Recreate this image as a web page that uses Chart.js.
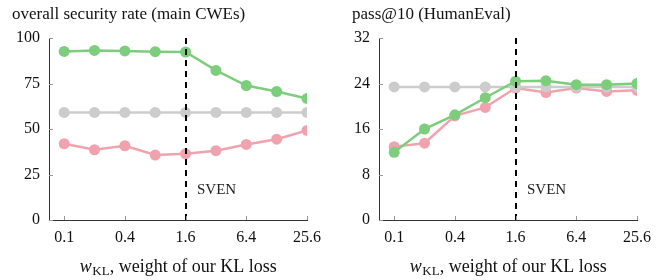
<!DOCTYPE html>
<html>
<head>
<meta charset="utf-8">
<script src="https://cdn.jsdelivr.net/npm/chart.js@4.4.1/dist/chart.umd.min.js"></script>
<style>
    body { margin: 0; background: #fff; }
    .panel { position: absolute; top: 0; width: 332px; height: 280px; }
</style>
</head>
<body>
<div class="panel" style="left:0"><canvas id="secChart"></canvas></div>
<div class="panel" style="left:332px"><canvas id="passChart"></canvas></div>
<script>
const klWeights = [0.1, 0.2, 0.4, 0.8, 1.6, 3.2, 6.4, 12.8, 25.6];
const xTickWeights = [0.1, 0.4, 1.6, 6.4, 25.6];
const svenWeight = 1.6;

// overall security rate (main CWEs)
const secSven = [92.6, 93.2, 92.9, 92.5, 92.3, 82.2, 73.9, 70.6, 66.8];
const secBase = [59.1, 59.1, 59.1, 59.1, 59.1, 59.1, 59.1, 59.1, 59.1];
const secVul = [41.9, 38.6, 40.8, 35.7, 36.4, 38.1, 41.5, 44.4, 49.2];
const secTicks = [0, 25, 50, 75, 100];

// pass@10 (HumanEval)
const passSven = [11.9, 16.0, 18.5, 21.5, 24.4, 24.5, 23.8, 23.8, 24.0];
const passBase = [23.4, 23.4, 23.4, 23.4, 23.4, 23.4, 23.4, 23.4, 23.4];
const passVul = [12.9, 13.5, 18.3, 19.8, 23.2, 22.4, 23.2, 22.6, 22.8];
const passTicks = [0, 8, 16, 24, 32];

const GREEN = '#7ccd7c';
const PINK = '#f0a3ae';
const GRAY = '#cccccc';
const SERIF = '"Liberation Serif", "DejaVu Serif", serif';

// log2 position on the x axis, 0.1 -> 0
const xPos = w => Math.log2(w / 0.1);

const series = (label, values, color) => ({
    label: label,
    data: values.map((v, i) => ({ x: xPos(klWeights[i]), y: v })),
    borderColor: color,
    backgroundColor: color,
    pointBackgroundColor: color,
    pointBorderWidth: 0,
    pointRadius: 5.5,
    borderWidth: 2.5,
    tension: 0
});

const decor = {
    id: 'decor',
    afterDatasetsDraw(chart) {
        const { ctx, chartArea: a, scales: { x } } = chart;
        const sx = Math.round(x.getPixelForValue(xPos(svenWeight)));
        ctx.save();
        ctx.strokeStyle = '#000';
        ctx.lineWidth = 2;
        ctx.setLineDash([6, 5]);
        ctx.beginPath();
        ctx.moveTo(sx, a.top);
        ctx.lineTo(sx, a.bottom);
        ctx.stroke();
        ctx.setLineDash([]);
        ctx.fillStyle = '#222';
        ctx.font = '15px ' + SERIF;
        ctx.textBaseline = 'alphabetic';
        ctx.fillText('SVEN', sx + 11, 194);
        ctx.restore();
    },
    afterDraw(chart, args, opts) {
        const { ctx, chartArea: a, scales: { x, y } } = chart;
        ctx.save();
        // inward tick marks
        ctx.strokeStyle = '#999';
        ctx.lineWidth = 1;
        ctx.beginPath();
        x.ticks.forEach(t => {
            const px = Math.round(x.getPixelForValue(t.value)) + 0.5;
            ctx.moveTo(px, a.bottom);
            ctx.lineTo(px, a.bottom - 4);
        });
        y.ticks.forEach(t => {
            const py = Math.round(y.getPixelForValue(t.value)) + 0.5;
            ctx.moveTo(a.left, py);
            ctx.lineTo(a.left + 4, py);
        });
        ctx.stroke();

        // panel title
        ctx.fillStyle = '#111';
        ctx.textBaseline = 'alphabetic';
        ctx.textAlign = 'left';
        ctx.font = '17px ' + SERIF;
        ctx.fillText(opts.title, opts.titleX, 19);

        // x axis title with subscript
        const big = '18px ' + SERIF;
        const ital = 'italic 18px ' + SERIF;
        const small = '13px ' + SERIF;
        const rest = ', weight of our KL loss';
        ctx.font = ital; const w1 = ctx.measureText('w').width;
        ctx.font = small; const w2 = ctx.measureText('KL').width;
        ctx.font = big; const w3 = ctx.measureText(rest).width;
        let tx = (a.left + a.right) / 2 - (w1 + w2 + w3) / 2;
        const base = 272;
        ctx.font = ital; ctx.fillText('w', tx, base); tx += w1 + 0.5;
        ctx.font = small; ctx.fillText('KL', tx, base + 3); tx += w2;
        ctx.font = big; ctx.fillText(rest, tx, base);
        ctx.restore();
    }
};

const makeChart = (id, datasets, yTicks, title, titleX, yWidth, padRight) => {
    const ctx = document.getElementById(id).getContext('2d');
    return new Chart(ctx, {
        type: 'line',
        data: { datasets: datasets },
        options: {
            responsive: true,
            maintainAspectRatio: false,
            animation: false,
            layout: { padding: { top: 38, right: padRight, bottom: 0, left: 0 } },
            plugins: {
                legend: { display: false },
                tooltip: { enabled: false },
                decor: { title: title, titleX: titleX }
            },
            scales: {
                x: {
                    type: 'linear',
                    min: -0.5,
                    max: xPos(klWeights[klWeights.length - 1]),
                    grid: { display: false, drawTicks: false },
                    border: { display: true, color: '#333', width: 1 },
                    afterBuildTicks: s => { s.ticks = xTickWeights.map(w => ({ value: xPos(w) })); },
                    afterFit: s => { s.height = 60; },
                    ticks: {
                        padding: 8,
                        color: '#111',
                        font: { family: SERIF, size: 16 },
                        maxRotation: 0,
                        callback: v => String(Math.round(0.1 * Math.pow(2, v) * 10) / 10)
                    }
                },
                y: {
                    min: yTicks[0],
                    max: yTicks[yTicks.length - 1],
                    grid: { display: false, drawTicks: false },
                    border: { display: true, color: '#333', width: 1 },
                    afterBuildTicks: s => { s.ticks = yTicks.map(v => ({ value: v })); },
                    afterFit: s => { s.width = yWidth; },
                    ticks: {
                        padding: 9,
                        color: '#111',
                        font: { family: SERIF, size: 16 }
                    }
                }
            }
        },
        plugins: [decor]
    });
};

makeChart('secChart', [
    series('SVEN sec', secSven, GREEN),
    series('LM', secBase, GRAY),
    series('SVEN vul', secVul, PINK)
], secTicks, 'overall security rate (main CWEs)', 12, 49, 25);

makeChart('passChart', [
    series('SVEN sec', passSven, GREEN),
    series('LM', passBase, GRAY),
    series('SVEN vul', passVul, PINK)
], passTicks, 'pass@10 (HumanEval)', 20, 47, 27);
</script>
</body>
</html>
